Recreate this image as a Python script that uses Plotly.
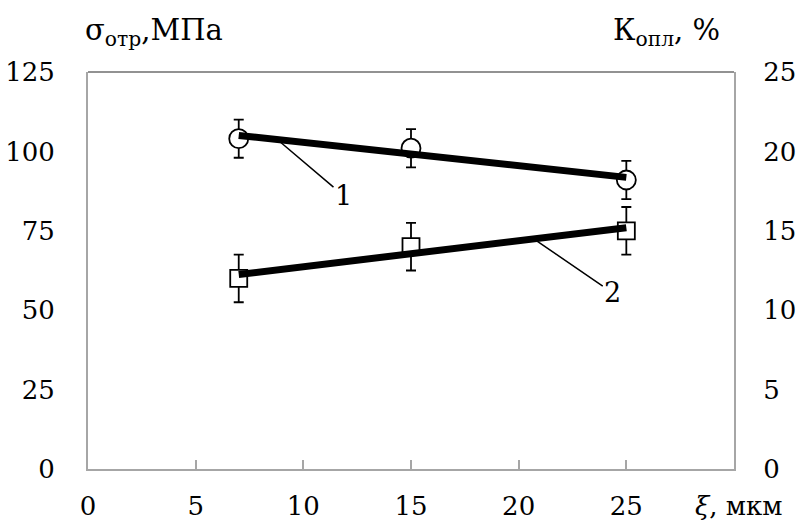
import numpy as np
import plotly.graph_objects as go

# Grain size, µm
xi_um = [7, 15, 25]
# Curve 1: tear-off strength, MPa (left axis)
sigma_mpa = [104, 101, 91]
sigma_err = [6, 6, 6]
# Curve 2: melting coefficient, % (right axis)
k_pct = [12, 14, 15]
k_err = [1.5, 1.5, 1.5]

x_ticks = [0, 5, 10, 15, 20, 25]
y_left_ticks = [0, 25, 50, 75, 100, 125]
y_right_ticks = [0, 5, 10, 15, 20, 25]

FONT = "'DejaVu Serif', 'Liberation Serif', serif"
FS_TICK = 26
FS_TITLE = 29
GRAY = "#a6a6a6"

# Linear trend lines through each series
p1 = np.polyfit(xi_um, sigma_mpa, 1)
p2 = np.polyfit(xi_um, k_pct, 1)
x_fit = [min(xi_um), max(xi_um)]
fit1 = np.polyval(p1, x_fit)
fit2 = np.polyval(p2, x_fit)

fig = go.Figure()

fig.add_trace(go.Scatter(
    x=xi_um, y=sigma_mpa, mode="markers",
    marker=dict(symbol="circle", size=19, color="white",
                line=dict(color="black", width=1.8)),
    error_y=dict(type="data", array=sigma_err, color="black", thickness=1.8, width=5),
    showlegend=False,
))
fig.add_trace(go.Scatter(
    x=xi_um, y=k_pct, mode="markers", yaxis="y2",
    marker=dict(symbol="square", size=17, color="white",
                line=dict(color="black", width=1.8)),
    error_y=dict(type="data", array=k_err, color="black", thickness=1.8, width=5),
    showlegend=False,
))
fig.add_trace(go.Scatter(
    x=x_fit, y=fit1, mode="lines",
    line=dict(color="black", width=7), showlegend=False,
))
fig.add_trace(go.Scatter(
    x=x_fit, y=fit2, mode="lines", yaxis="y2",
    line=dict(color="black", width=7), showlegend=False,
))

# Curve labels with leader lines
lx1 = 8.8
lx2 = 20.7
fig.add_annotation(x=lx1, y=float(np.polyval(p1, lx1)), xref="x", yref="y",
                   text="1", showarrow=True, arrowhead=0, arrowwidth=1.5,
                   arrowcolor="black", ax=66, ay=56, standoff=4,
                   font=dict(family=FONT, size=27, color="black"))
fig.add_annotation(x=lx2, y=float(np.polyval(p2, lx2)), xref="x", yref="y2",
                   text="2", showarrow=True, arrowhead=0, arrowwidth=1.5,
                   arrowcolor="black", ax=79, ay=54, standoff=4,
                   font=dict(family=FONT, size=27, color="black"))

# Axis titles
fig.add_annotation(x=-0.008, y=1.1, xref="paper", yref="paper",
                   text="σ<sub>отр</sub>,МПа", showarrow=False,
                   xanchor="left", yanchor="middle",
                   font=dict(family=FONT, size=FS_TITLE, color="black"))
fig.add_annotation(x=0.81, y=1.1, xref="paper", yref="paper",
                   text="К<sub>опл</sub>, %", showarrow=False,
                   xanchor="left", yanchor="middle",
                   font=dict(family=FONT, size=FS_TITLE, color="black"))
fig.add_annotation(x=0.937, y=-0.092, xref="paper", yref="paper",
                   text="<i>ξ</i>, мкм", showarrow=False,
                   xanchor="left", yanchor="middle",
                   font=dict(family=FONT, size=26, color="black"))

# Top frame edge
fig.add_shape(type="line", xref="paper", yref="paper", x0=0, x1=1, y0=1, y1=1,
              line=dict(color="#6e6e6e", width=1.5))

fig.update_layout(
    width=797, height=523,
    margin=dict(l=88, r=63, t=72, b=54, autoexpand=False),
    paper_bgcolor="white", plot_bgcolor="white",
    font=dict(family=FONT, size=FS_TICK, color="black"),
    xaxis=dict(range=[0, 30], tickvals=x_ticks, ticks="inside", ticklen=9,
               tickwidth=1.5, tickcolor=GRAY, showline=True, linecolor=GRAY,
               linewidth=2, showgrid=False, zeroline=False, automargin=False,
               ticklabelstandoff=13),
    yaxis=dict(range=[0, 125], tickvals=y_left_ticks, ticks="",
               showline=True, linecolor=GRAY, linewidth=2, showgrid=False,
               zeroline=False, automargin=False, ticklabelstandoff=26),
    yaxis2=dict(range=[0, 25], tickvals=y_right_ticks, ticks="", overlaying="y",
                side="right", showline=True, linecolor=GRAY, linewidth=2,
                showgrid=False, zeroline=False, automargin=False,
                ticklabelstandoff=22),
)

fig.write_html("out.html")
